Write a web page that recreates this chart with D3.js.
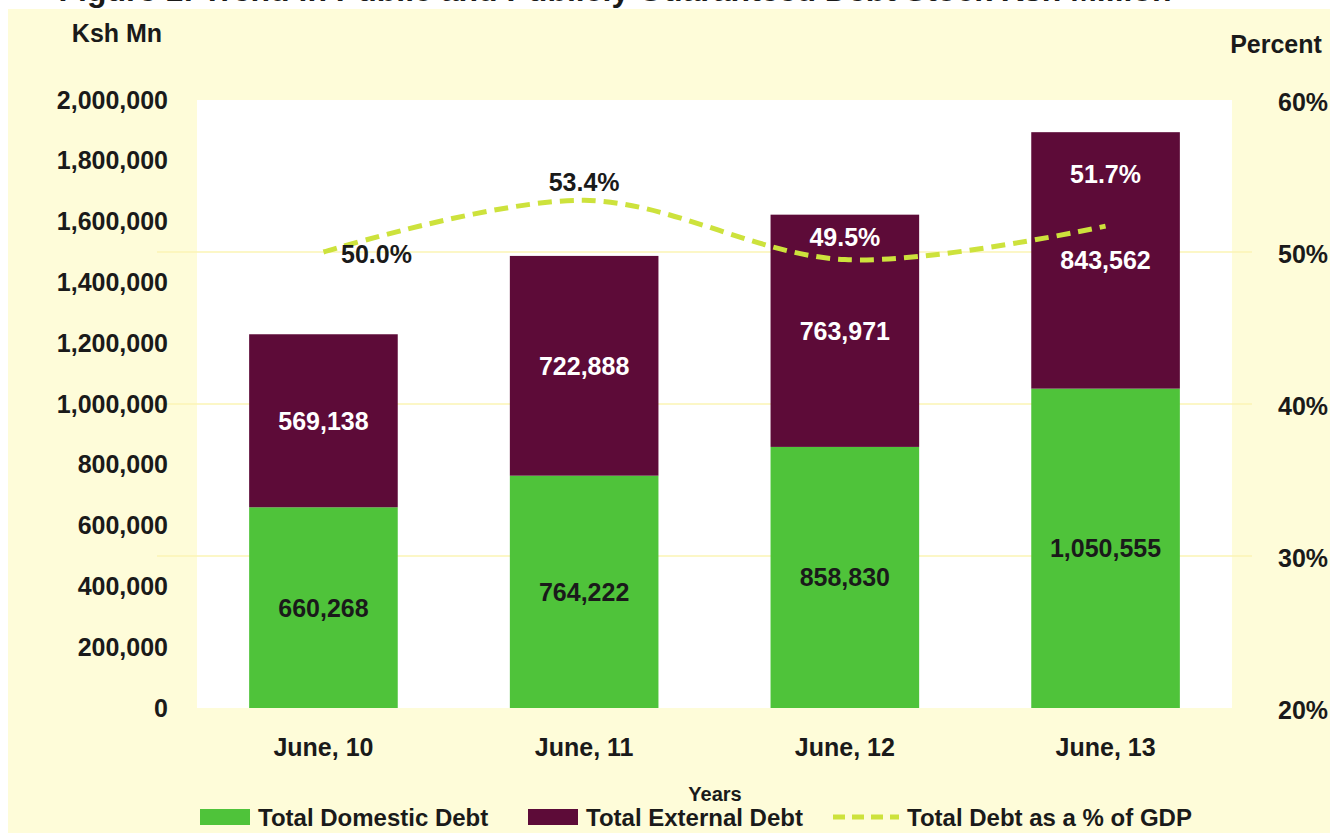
<!DOCTYPE html>
<html>
<head>
<meta charset="utf-8">
<script src="https://cdn.jsdelivr.net/npm/d3@7"></script>
<style>
    body { margin: 0; background: #fff; }
    svg text { font-family: 'Liberation Sans Narrow', 'Arial Narrow', 'Liberation Sans', sans-serif; font-weight: bold; }
</style>
</head>
<body>
<div id="chart"></div>
<script>
var years = ['June, 10', 'June, 11', 'June, 12', 'June, 13'];
var domestic = [660268, 764222, 858830, 1050555];
var external = [569138, 722888, 763971, 843562];
var debtGdp = [50.0, 53.4, 49.5, 51.7];
var leftTicks = [0, 200000, 400000, 600000, 800000, 1000000, 1200000, 1400000, 1600000, 1800000, 2000000];
var rightTicks = [20, 30, 40, 50, 60];

var fullwidth = 1330;
var fullheight = 833;
var margin = { top: 100, right: 98, bottom: 125, left: 197 };
var width = fullwidth - margin.left - margin.right;
var height = fullheight - margin.top - margin.bottom;

var svg = d3.select('#chart')
    .append('svg')
    .attr('width', fullwidth)
    .attr('height', fullheight);

// pale yellow page
svg.append('rect')
    .attr('x', 8).attr('y', 9)
    .attr('width', fullwidth - 8).attr('height', fullheight - 9)
    .attr('fill', '#fefcd9');

// title, cut off at the top as in the source
svg.append('text')
    .attr('x', 615).attr('y', 1)
    .attr('text-anchor', 'middle')
    .style('font-family', 'Liberation Sans, sans-serif')
    .style('font-size', '32px')
    .attr('fill', '#1a1a1a')
    .text('Figure 1: Trend in Public and Publicly Guaranteed Debt Stock Ksh Million');

var g = svg.append('g').attr('transform', 'translate(' + margin.left + ',' + margin.top + ')');

g.append('rect')
    .attr('width', width).attr('height', height)
    .attr('fill', '#ffffff');

var x = d3.scaleBand().domain(years).range([0, width]).paddingInner(0.43).paddingOuter(0.2);
var y = d3.scaleLinear().domain([0, 2000000]).range([height, 0]);
var y2 = d3.scaleLinear().domain([20, 60]).range([height, 0]);

// gridlines from right axis
g.selectAll('.grid')
    .data(rightTicks.filter(function(d) { return d > 20 && d < 60; }))
    .enter().append('line')
    .attr('x1', -40).attr('x2', width + 20)
    .attr('y1', function(d) { return y2(d); })
    .attr('y2', function(d) { return y2(d); })
    .attr('stroke', '#fbf5b4')
    .attr('stroke-width', 1.5);

var rows = years.map(function(yr, i) {
    return { year: yr, dom: domestic[i], ext: external[i], pct: debtGdp[i] };
});

// domestic bars
g.selectAll('.dom')
    .data(rows).enter().append('rect')
    .attr('x', function(d) { return x(d.year); })
    .attr('width', x.bandwidth())
    .attr('y', function(d) { return y(d.dom); })
    .attr('height', function(d) { return height - y(d.dom); })
    .attr('fill', '#4fc33a');

// external bars
g.selectAll('.ext')
    .data(rows).enter().append('rect')
    .attr('x', function(d) { return x(d.year); })
    .attr('width', x.bandwidth())
    .attr('y', function(d) { return y(d.dom + d.ext); })
    .attr('height', function(d) { return y(d.dom) - y(d.dom + d.ext); })
    .attr('fill', '#5d0b38');

var fmt = d3.format(',');

g.selectAll('.domlab')
    .data(rows).enter().append('text')
    .attr('x', function(d) { return x(d.year) + x.bandwidth() / 2; })
    .attr('y', function(d) { return (y(0) + y(d.dom)) / 2; })
    .attr('dy', '0.36em')
    .attr('text-anchor', 'middle')
    .style('font-size', '25px')
    .attr('fill', '#1a1a1a')
    .text(function(d) { return fmt(d.dom); });

g.selectAll('.extlab')
    .data(rows).enter().append('text')
    .attr('x', function(d) { return x(d.year) + x.bandwidth() / 2; })
    .attr('y', function(d) { return (y(d.dom) + y(d.dom + d.ext)) / 2; })
    .attr('dy', '0.36em')
    .attr('text-anchor', 'middle')
    .style('font-size', '25px')
    .attr('fill', '#ffffff')
    .text(function(d) { return fmt(d.ext); });

// % of GDP line
var line = d3.line()
    .x(function(d) { return x(d.year) + x.bandwidth() / 2; })
    .y(function(d) { return y2(d.pct); })
    .curve(d3.curveCatmullRom.alpha(0.5));

g.append('path')
    .datum(rows)
    .attr('d', line)
    .attr('fill', 'none')
    .attr('stroke', '#cde23c')
    .attr('stroke-width', 5)
    .attr('stroke-dasharray', '14,8');

// label offsets relative to the line point
var pctOffsets = [[53, 2], [0, -18], [0, -23], [0, -52]];
g.selectAll('.pctlab')
    .data(rows).enter().append('text')
    .attr('x', function(d, i) { return x(d.year) + x.bandwidth() / 2 + pctOffsets[i][0]; })
    .attr('y', function(d, i) { return y2(d.pct) + pctOffsets[i][1]; })
    .attr('dy', '0.36em')
    .attr('text-anchor', 'middle')
    .style('font-size', '25px')
    .attr('fill', function(d, i) { return i === 0 || i === 1 ? '#1a1a1a' : '#ffffff'; })
    .text(function(d) { return d.pct.toFixed(1) + '%'; });

// left axis
var yAxis = d3.axisLeft(y).tickValues(leftTicks).tickFormat(d3.format(',')).tickSize(0).tickPadding(29);
var ya = g.append('g').call(yAxis);
ya.select('.domain').remove();
ya.selectAll('text').style('font-size', '25px').attr('fill', '#1a1a1a');

// right axis
var y2Axis = d3.axisRight(y2).tickValues(rightTicks).tickFormat(function(d) { return d + '%'; }).tickSize(0).tickPadding(46);
var yb = g.append('g').attr('transform', 'translate(' + width + ',2)').call(y2Axis);
yb.select('.domain').remove();
yb.selectAll('text').style('font-size', '25px').attr('fill', '#1a1a1a');

// x axis
var xAxis = d3.axisBottom(x).tickSize(0).tickPadding(30);
var xa = g.append('g').attr('transform', 'translate(0,' + height + ')').call(xAxis);
xa.select('.domain').remove();
xa.selectAll('text').style('font-size', '25px').attr('fill', '#1a1a1a');

// axis titles
svg.append('text').attr('x', 117).attr('y', 42).attr('text-anchor', 'middle')
    .style('font-size', '25px').attr('fill', '#1a1a1a').text('Ksh Mn');
svg.append('text').attr('x', 1276).attr('y', 53).attr('text-anchor', 'middle')
    .style('font-size', '25px').attr('fill', '#1a1a1a').text('Percent');
svg.append('text').attr('x', 715).attr('y', 801).attr('text-anchor', 'middle')
    .style('font-size', '20px').attr('fill', '#1a1a1a').text('Years');

// legend
var legend = svg.append('g').attr('transform', 'translate(0,817)');
var legItems = [
    { label: 'Total Domestic Debt', color: '#4fc33a', type: 'rect', x: 200 },
    { label: 'Total External Debt', color: '#5d0b38', type: 'rect', x: 528 },
    { label: 'Total Debt as a % of GDP', color: '#cde23c', type: 'line', x: 833 }
];
legItems.forEach(function(it) {
    if (it.type === 'rect') {
        legend.append('rect').attr('x', it.x).attr('y', -8).attr('width', 50).attr('height', 16).attr('fill', it.color);
        legend.append('text').attr('x', it.x + 58).attr('y', 0).attr('dy', '0.36em')
            .style('font-size', '24px').attr('fill', '#1a1a1a').text(it.label);
    } else {
        legend.append('line').attr('x1', it.x).attr('x2', it.x + 66).attr('y1', 0).attr('y2', 0)
            .attr('stroke', it.color).attr('stroke-width', 5).attr('stroke-dasharray', '12,7');
        legend.append('text').attr('x', it.x + 74).attr('y', 0).attr('dy', '0.36em')
            .style('font-size', '24px').attr('fill', '#1a1a1a').text(it.label);
    }
});
</script>
</body>
</html>
